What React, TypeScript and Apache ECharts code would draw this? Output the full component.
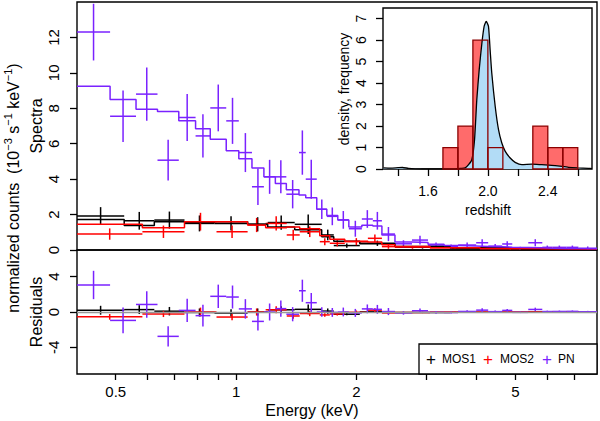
import React, { useEffect, useRef } from 'react';
import * as echarts from 'echarts';

const FONT = 'Liberation Sans, Arial, sans-serif';
const C_MOS1 = '#000000';
const C_MOS2 = '#FF0000';
const C_PN = '#7A22FF';

// ---- energy axis (keV, log scale)
const energyMin = 0.4;
const energyMax = 8;
const energyTicks = [0.5, 0.6, 0.7, 0.8, 0.9, 1, 2, 3, 4, 5, 6, 7];
const energyLabels = [0.5, 1, 2, 5];
const spectraTicks = [0, 2, 4, 6, 8, 10, 12];
const residTicks = [-4, 0, 4];

// ---- MOS1 (bin edges in keV, data, 1-sigma error, model)
const mos1Edges = [0.4, 0.525, 0.6245, 0.743, 0.883, 1.069, 1.2, 1.402, 1.638, 1.756, 2.04, 2.498, 3.432, 5.142, 8.0];
const mos1Val = [1.92, 1.65, 1.69, 1.5, 1.5, 1.45, 1.55, 1.45, 0.85, 0.25, 0.38, 0.15, 0.1, 0.06];
const mos1Err = [0.5, 0.5, 0.48, 0.45, 0.4, 0.4, 0.4, 0.55, 0.3, 0.12, 0.15, 0.07, 0.05, 0.04];
const mos1Model = [1.72, 1.38, 1.6, 1.55, 1.6, 1.45, 1.3, 1.15, 0.75, 0.5, 0.35, 0.2, 0.12, 0.07];

// ---- MOS2
const mos2Edges = [0.4, 0.583, 0.743, 0.8935, 1.069, 1.186, 1.339, 1.443, 1.62, 1.716, 1.871, 2.137, 2.317, 2.498, 3.057, 4.079, 5.77, 8.0];
const mos2Val = [0.9, 1.03, 1.6, 1.03, 1.41, 1.5, 0.85, 1.03, 0.47, 0.38, 0.47, 0.66, 0.19, 0.15, 0.12, 0.08, 0.05];
const mos2Err = [0.32, 0.35, 0.5, 0.35, 0.4, 0.4, 0.3, 0.3, 0.2, 0.18, 0.2, 0.22, 0.12, 0.08, 0.06, 0.05, 0.04];
const mos2Model = [1.45, 1.25, 1.6, 1.6, 1.41, 1.25, 1.3, 1.2, 0.8, 0.6, 0.5, 0.45, 0.3, 0.2, 0.13, 0.09, 0.06];

// ---- PN
const pnEdges = [0.4, 0.484, 0.562, 0.636, 0.719, 0.792, 0.862, 0.945, 1.016, 1.096, 1.174, 1.254, 1.336, 1.437, 1.494, 1.592, 1.687, 1.797, 1.915, 2.064, 2.199, 2.317, 2.498, 2.755, 3.022, 3.315, 3.594, 3.988, 4.274, 4.633, 4.91, 5.384, 5.837, 6.185, 6.706, 7.187, 8.0];
const pnVal = [12.3, 7.55, 8.8, 5.07, 7.48, 6.44, 8.02, 7.29, 5.5, 3.57, 4.13, 4.13, 3.15, 5.5, 4.0, 2.3, 1.9, 1.7, 1.2, 1.75, 1.65, 0.9, 0.35, 0.56, 0.28, 0.19, 0.28, 0.41, 0.22, 0.34, 0.1, 0.41, 0.15, 0.15, 0.15, 0.1];
const pnErr = [1.6, 1.45, 1.5, 1.15, 1.32, 1.22, 1.32, 1.3, 1.1, 1.03, 0.96, 0.93, 0.8, 1.25, 1.1, 0.55, 0.5, 0.5, 0.45, 0.5, 0.5, 0.4, 0.2, 0.25, 0.15, 0.12, 0.15, 0.2, 0.12, 0.15, 0.08, 0.2, 0.1, 0.1, 0.1, 0.1];
const pnModel = [9.25, 8.5, 7.95, 7.82, 7.3, 6.85, 6.25, 5.6, 5.15, 4.63, 4.13, 3.75, 3.4, 3.1, 2.95, 2.3, 1.95, 1.7, 1.3, 1.4, 1.35, 0.85, 0.45, 0.42, 0.32, 0.25, 0.22, 0.2, 0.18, 0.16, 0.14, 0.12, 0.1, 0.09, 0.08, 0.07];

// ---- inset: redshift histogram + density
const histLo = [1.7, 1.8, 1.9, 2.0, 2.3, 2.4, 2.5];
const histHi = [1.8, 1.9, 2.0, 2.1, 2.4, 2.5, 2.6];
const histCount = [1, 2, 6, 1, 2, 1, 1];
const densZ = [1.304, 1.35, 1.4, 1.43, 1.47, 1.52, 1.6, 1.7, 1.78, 1.82, 1.849, 1.871, 1.893, 1.911, 1.926, 1.942, 1.96, 1.975, 1.989, 2.004, 2.015, 2.026, 2.049, 2.071, 2.093, 2.116, 2.149, 2.182, 2.227, 2.293, 2.36, 2.449, 2.538, 2.6, 2.671, 2.695];
const densY = [0.05, 0.04, 0.06, 0.07, 0.03, 0.01, 0.0, 0.0, 0.01, 0.03, 0.05, 0.2, 0.43, 1.36, 3.22, 4.62, 5.86, 6.64, 6.87, 6.64, 5.55, 4.47, 2.91, 1.83, 1.21, 0.82, 0.51, 0.31, 0.2, 0.23, 0.2, 0.16, 0.08, 0.05, 0.03, 0.02];
const zTicks = [1.4, 1.6, 1.8, 2.0, 2.2, 2.4, 2.6];
const zLabels = [1.6, 2.0, 2.4];
const densTicks = [0, 1, 2, 3, 4, 5, 6, 7];

const L = Math.log10;
const LXMIN = L(energyMin);
const LXMAX = L(energyMax);

function crossSeries(color: string, edges: number[], vals: number[], errs: number[], idx: number, extra: any = {}) {
  const data = vals.map((v, i) => [L(edges[i]), L(edges[i + 1]), v, errs[i]]);
  return {
    type: 'custom',
    xAxisIndex: idx,
    yAxisIndex: idx,
    clip: true,
    silent: true,
    z: 3,
    encode: { x: [0, 1], y: 2 },
    renderItem: (_p: any, api: any) => {
      const lo = api.value(0), hi = api.value(1), v = api.value(2), e = api.value(3);
      const c = (lo + hi) / 2;
      const a = api.coord([lo, v]);
      const b = api.coord([hi, v]);
      const t = api.coord([c, v + e]);
      const d = api.coord([c, v - e]);
      return {
        type: 'group',
        children: [
          { type: 'line', shape: { x1: a[0], y1: a[1], x2: b[0], y2: b[1] }, style: { stroke: color, lineWidth: 1.5 } },
          { type: 'line', shape: { x1: t[0], y1: t[1], x2: d[0], y2: d[1] }, style: { stroke: color, lineWidth: 1.5 } },
        ],
      };
    },
    data,
    ...extra,
  };
}

function stepSeries(color: string, edges: number[], model: number[]) {
  const data: number[][] = [];
  model.forEach((m, i) => {
    data.push([L(edges[i]), m]);
    data.push([L(edges[i + 1]), m]);
  });
  return {
    type: 'line',
    xAxisIndex: 0,
    yAxisIndex: 0,
    showSymbol: false,
    silent: true,
    z: 3,
    lineStyle: { color, width: 1.5 },
    data,
  };
}

function resid(vals: number[], model: number[]) {
  return vals.map((v, i) => v - model[i]);
}

function histSeries(fill: string, stroke: string, z: number) {
  return {
    type: 'custom',
    xAxisIndex: 2,
    yAxisIndex: 2,
    silent: true,
    z,
    encode: { x: [0, 1], y: 2 },
    renderItem: (_p: any, api: any) => {
      const a = api.coord([api.value(0), api.value(2)]);
      const b = api.coord([api.value(1), 0]);
      return {
        type: 'rect',
        shape: { x: a[0], y: a[1], width: b[0] - a[0], height: b[1] - a[1] },
        style: { fill, stroke, lineWidth: 1.3 },
      };
    },
    data: histCount.map((c, i) => [histLo[i], histHi[i], c]),
  };
}

const tickStyle = { color: '#000', width: 1.3 };
const lblBase = { color: '#000', fontFamily: FONT };
const noLine = { show: false, onZero: false };

function logLabel(v: number) {
  return String(Number(Math.pow(10, v).toPrecision(3)));
}

const option: any = {
  animation: false,
  backgroundColor: '#fff',
  grid: [
    { left: 77, top: 2, width: 520, height: 248, show: true, borderColor: '#000', borderWidth: 1.4, backgroundColor: 'transparent' },
    { left: 77, top: 250, width: 520, height: 124, show: true, borderColor: '#000', borderWidth: 1.4, backgroundColor: 'transparent' },
    { left: 383, top: 8, width: 209, height: 161, show: true, borderColor: '#000', borderWidth: 1.4, backgroundColor: '#fff' },
  ],
  xAxis: [
    {
      gridIndex: 0, type: 'value', min: LXMIN, max: LXMAX, position: 'bottom',
      axisLine: noLine, axisTick: { show: false }, axisLabel: { show: false }, splitLine: { show: false },
    },
    {
      gridIndex: 1, type: 'value', min: LXMIN, max: LXMAX, position: 'bottom',
      axisLine: noLine, splitLine: { show: false },
      axisTick: { show: true, length: 6, lineStyle: tickStyle, customValues: energyTicks.map(L) },
      axisLabel: { ...lblBase, fontSize: 15, margin: 10, customValues: energyLabels.map(L), formatter: logLabel },
    },
    {
      gridIndex: 2, type: 'value', min: 1.3, max: 2.695, position: 'bottom',
      axisLine: noLine, splitLine: { show: false },
      axisTick: { show: true, length: 7, lineStyle: tickStyle, customValues: zTicks },
      axisLabel: { ...lblBase, fontSize: 14, margin: 15, customValues: zLabels, formatter: (v: number) => v.toFixed(1) },
    },
  ],
  yAxis: [
    {
      gridIndex: 0, type: 'value', min: 0, max: 14, position: 'left',
      axisLine: noLine, splitLine: { show: false },
      axisTick: { show: true, length: 7, lineStyle: tickStyle, customValues: spectraTicks },
      axisLabel: { ...lblBase, fontSize: 15, margin: 16, rotate: 90, customValues: spectraTicks },
    },
    {
      gridIndex: 1, type: 'value', min: -7, max: 7, position: 'left',
      axisLine: noLine, splitLine: { show: false },
      axisTick: { show: true, length: 7, lineStyle: tickStyle, customValues: residTicks },
      axisLabel: { ...lblBase, fontSize: 15, margin: 16, rotate: 90, customValues: residTicks },
    },
    {
      gridIndex: 2, type: 'value', min: 0, max: 7.5, position: 'left',
      axisLine: noLine, splitLine: { show: false },
      axisTick: { show: true, length: 7, lineStyle: tickStyle, customValues: densTicks },
      axisLabel: { ...lblBase, fontSize: 14, margin: 15, rotate: 90, customValues: densTicks },
    },
  ],
  series: [
    // top panel
    crossSeries(C_MOS1, mos1Edges, mos1Val, mos1Err, 0),
    stepSeries(C_MOS1, mos1Edges, mos1Model),
    crossSeries(C_MOS2, mos2Edges, mos2Val, mos2Err, 0),
    stepSeries(C_MOS2, mos2Edges, mos2Model),
    crossSeries(C_PN, pnEdges, pnVal, pnErr, 0),
    stepSeries(C_PN, pnEdges, pnModel),
    // residuals
    crossSeries(C_MOS1, mos1Edges, resid(mos1Val, mos1Model), mos1Err, 1, {
      markLine: {
        silent: true, symbol: ['none', 'none'], label: { show: false },
        lineStyle: { color: '#999', type: 'solid', width: 1.3 },
        data: [{ yAxis: 0 }],
      },
    }),
    crossSeries(C_MOS2, mos2Edges, resid(mos2Val, mos2Model), mos2Err, 1),
    crossSeries(C_PN, pnEdges, resid(pnVal, pnModel), pnErr, 1),
    // inset
    histSeries('#FF6B6B', 'none', 4),
    {
      type: 'line', xAxisIndex: 2, yAxisIndex: 2, showSymbol: false, silent: true, z: 5, smooth: 0.2,
      lineStyle: { color: '#000', width: 1.3 },
      areaStyle: { color: '#B2DCF6', opacity: 1 },
      data: densZ.map((z, i) => [z, densY[i]]),
    },
    histSeries('none', '#8B0000', 6),
  ],
  graphic: [
    {
      type: 'text', x: 13, y: 188, rotation: Math.PI / 2,
      style: {
        text: '{n|normalized counts  (10}{s|−3}{n| s}{s|−1}{n| keV}{s|−1}{n|)}',
        align: 'center', verticalAlign: 'middle',
        rich: {
          n: { fontSize: 16, fontFamily: FONT, fill: '#000', lineHeight: 22 },
          s: { fontSize: 11, fontFamily: FONT, fill: '#000', lineHeight: 11, verticalAlign: 'top' },
        },
      },
    },
    { type: 'text', x: 36, y: 126, rotation: Math.PI / 2, style: { text: 'Spectra', fontSize: 16, fontFamily: FONT, fill: '#000', align: 'center', verticalAlign: 'middle' } },
    { type: 'text', x: 36, y: 312, rotation: Math.PI / 2, style: { text: 'Residuals', fontSize: 16, fontFamily: FONT, fill: '#000', align: 'center', verticalAlign: 'middle' } },
    { type: 'text', x: 312, y: 410, style: { text: 'Energy (keV)', fontSize: 16, fontFamily: FONT, fill: '#000', align: 'center', verticalAlign: 'middle' } },
    { type: 'text', x: 344, y: 89, rotation: Math.PI / 2, style: { text: 'density, frequency', fontSize: 14, fontFamily: FONT, fill: '#000', align: 'center', verticalAlign: 'middle' } },
    { type: 'text', x: 488, y: 210, style: { text: 'redshift', fontSize: 14, fontFamily: FONT, fill: '#000', align: 'center', verticalAlign: 'middle' } },
    // legend
    { type: 'rect', z: 100, shape: { x: 419, y: 344, width: 178, height: 30 }, style: { fill: '#fff', stroke: '#000', lineWidth: 1.3 } },
    { type: 'text', z: 101, x: 431, y: 359, style: { text: '+', fontSize: 17, fontFamily: FONT, fill: C_MOS1, align: 'center', verticalAlign: 'middle' } },
    { type: 'text', z: 101, x: 442, y: 359, style: { text: 'MOS1', fontSize: 12, fontFamily: FONT, fill: '#000', align: 'left', verticalAlign: 'middle' } },
    { type: 'text', z: 101, x: 488, y: 359, style: { text: '+', fontSize: 17, fontFamily: FONT, fill: C_MOS2, align: 'center', verticalAlign: 'middle' } },
    { type: 'text', z: 101, x: 500, y: 359, style: { text: 'MOS2', fontSize: 12, fontFamily: FONT, fill: '#000', align: 'left', verticalAlign: 'middle' } },
    { type: 'text', z: 101, x: 547, y: 359, style: { text: '+', fontSize: 17, fontFamily: FONT, fill: C_PN, align: 'center', verticalAlign: 'middle' } },
    { type: 'text', z: 101, x: 558, y: 359, style: { text: 'PN', fontSize: 12, fontFamily: FONT, fill: '#000', align: 'left', verticalAlign: 'middle' } },
  ],
};

export default function App() {
  const ref = useRef<HTMLDivElement>(null);
  useEffect(() => {
    const chart = echarts.init(ref.current!, null, { renderer: 'svg' });
    chart.setOption(option);
    return () => chart.dispose();
  }, []);
  return <div ref={ref} style={{ position: 'fixed', left: 0, top: 0, width: 600, height: 421 }} />;
}
